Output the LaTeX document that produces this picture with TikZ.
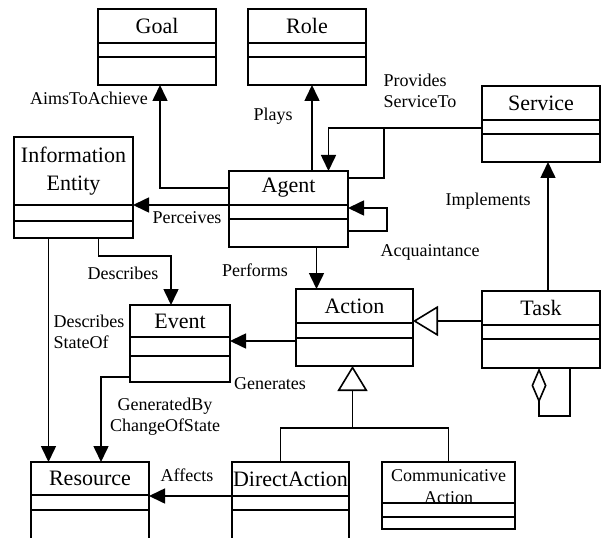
\documentclass[tikz,border=0pt]{standalone}
\usepackage{fontspec}
\setmainfont{Liberation Serif}
\usetikzlibrary{arrows.meta, calc}

\begin{document}
\begin{tikzpicture}[x=1pt, y=-1pt, line width=1.6pt,
    cls/.style={draw, inner sep=0pt, outer sep=0pt, anchor=north west},
    ttl/.style={font=\fontsize{22}{28}\selectfont, align=center, inner sep=0pt},
    lab/.style={font=\fontsize{18}{21}\selectfont, inner sep=1pt},
    assoc/.style={-{Triangle[length=16pt, width=15pt]}},
    gen/.style={-{Triangle[open, length=25pt, width=30pt]}},
    aggr/.style={{Diamond[open, length=35pt, width=15pt]}-},
]
\useasboundingbox (0,0) rectangle (601,537);
\clip (0,0) rectangle (601,537);

% ================= classes =================
\foreach \nm/\x/\y/\w/\h/\da/\db in {
    goal/98/9/118/76/34/48, role/248/9/118/76/34/48,
    service/482/86/118/76/34/48, info/14/137/119/101/68/84,
    agent/229/171/119/76/34/48, event/130/305/100/77/32/51,
    action/296/289/117/77/34/49, task/482/291/118/77/34/48,
    resource/31/462/118/90/33/48, direct/232/462/117/90/34/48,
    comm/382/462/133/67/41/55}{
    \node[cls, minimum width=\w pt, minimum height=\h pt] (\nm) at (\x,\y) {};
    \draw ($(\nm.north west)+(0,\da)$) -- ($(\nm.north east)+(0,\da)$);
    \draw ($(\nm.north west)+(0,\db)$) -- ($(\nm.north east)+(0,\db)$);
}

\node[ttl] (goalT) at ($(goal.north)+(0,17)$) {Goal};
\node[ttl] (roleT) at ($(role.north)+(0,17)$) {Role};
\node[ttl] (serviceT) at ($(service.north)+(0,17)$) {Service};
\node[ttl] (infoT) at ($(info.north)+(0,34)$) {Information\\Entity};
\node[ttl] (agentT) at ($(agent.north)+(0,17)$) {Agent};
\node[ttl] (eventT) at ($(event.north)+(0,16)$) {Event};
\node[ttl] (actionT) at ($(action.north)+(0,17)$) {Action};
\node[ttl] (taskT) at ($(task.north)+(0,17)$) {Task};
\node[ttl] (resourceT) at ($(resource.north)+(0,16)$) {Resource};
\node[ttl] (directT) at ($(direct.north)+(0,17)$) {DirectAction};
\node[ttl, font=\fontsize{18}{22}\selectfont] (commT) at ($(comm.north)+(0,25)$)
    {Communicative\\Action};

% ================= associations =================
\draw[assoc] ($(agent.north west)+(0,17)$) -| ([xshift=3pt]goal.south);
\node[lab] (lAims) at (89,98) {AimsToAchieve};

\draw[assoc] ([xshift=5pt]role.south |- agent.north) -- ([xshift=5pt]role.south);
\node[lab] (lPlays) at (273,116) {Plays};

\draw[assoc] ($(service.north west)+(0,42)$) -| ([xshift=40pt]agent.north);
\draw ($(agent.north east)+(0,7)$) -| ($(service.north west)+(-98,42)$);
\node[lab, align=left] (lProv) at (420,91) {Provides\\ServiceTo};

\draw[assoc] ($(agent.north east)+(0,60)$) -- ++(39,0) |- ($(agent.north east)+(0,37)$);
\node[lab] (lAcq) at (430,252) {Acquaintance};

\draw[assoc] ($(agent.north west)+(0,34)$) -- ($(info.north east)+(0,68)$);
\node[lab] (lPerc) at (187,218) {Perceives};

\draw[assoc] ([xshift=28pt]agent.south) -- ([xshift=28pt]agent.south |- action.north);
\node[lab] (lPerf) at (255,270) {Performs};

\draw[assoc] ([xshift=25pt]info.south) -- ++(0,18) -| ([xshift=-9pt]event.north);
\node[lab] (lDesc) at (123,273) {Describes};

\draw[assoc] ([xshift=-25pt]info.south) -- ([xshift=-25pt]info.south |- resource.north);
\node[lab, align=left] (lState) at (89,332) {Describes\\StateOf};

\draw[assoc] ($(event.south west)+(0,-5)$) -| ([xshift=11pt]resource.north);
\node[lab, align=center] (lGenBy) at (165,417) {GeneratedBy\\ChangeOfState};

\draw[assoc] ($(action.north west)+(0,52)$) -- ($(event.north east)+(0,36)$);
\node[lab] (lGen) at (270,384) {Generates};

\draw[assoc] ($(direct.north west)+(0,34)$) -- ($(resource.north east)+(0,34)$);
\node[lab] (lAff) at (187,475) {Affects};

\draw[assoc] ([xshift=7pt]task.north) -- ([xshift=7pt]service.south);
\node[lab] (lImpl) at (488,201) {Implements};

% ================= generalization / aggregation =================
\draw[gen] ($(task.north west)+(0,30)$) -- ($(action.north east)+(0,32)$);
\draw ([xshift=-10pt]direct.north) -- ++(0,-34) -| (comm.north);
\draw[gen] ($(action.south)+(-2,62)$) -- ([xshift=-2pt]action.south);
\draw[aggr] ([xshift=-2pt]task.south) -- ++(0,48) -| ([xshift=29pt]task.south);

\end{tikzpicture}
\end{document}
